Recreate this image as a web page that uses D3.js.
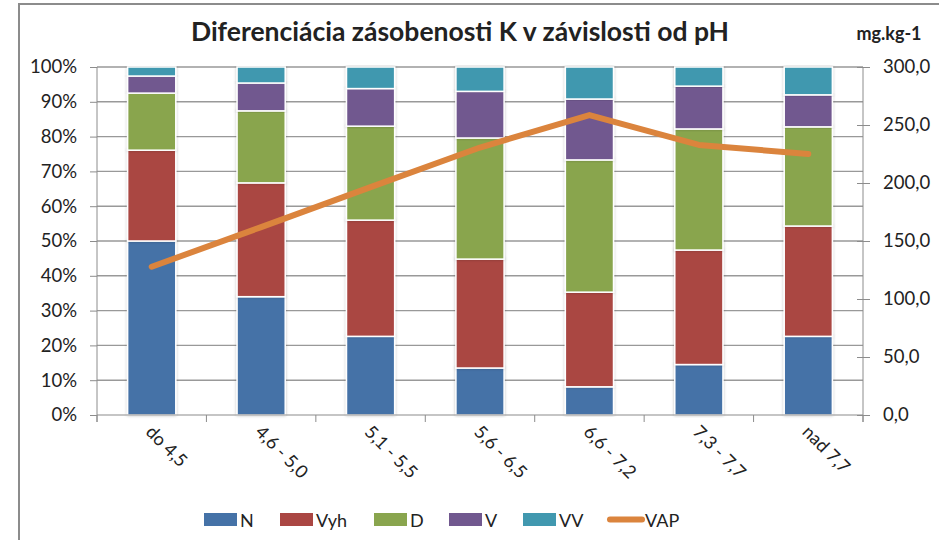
<!DOCTYPE html>
<html>
<head>
<meta charset="utf-8">
<script src="https://cdn.jsdelivr.net/npm/d3@7"></script>
<style>
  body { margin: 0; background: #fff; }
  svg text { font-family: Lato, "Open Sans", sans-serif; fill: #222; }
</style>
</head>
<body>
<div id="chart"></div>
<script>
// pH classes and shares (%) of each supply class, plus mean K (mg.kg-1)
const categories = ['do 4,5', '4,6 - 5,0', '5,1 - 5,5', '5,6 - 6,5', '6,6 - 7,2', '7,3 - 7,7', 'nad 7,7']
const N   = [50, 34, 22.6, 13.5, 8.1, 14.5, 22.6]
const Vyh = [26.1, 32.7, 33.4, 31.3, 27.2, 32.9, 31.7]
const D   = [16.4, 20.7, 27, 34.8, 38, 34.8, 28.5]
const V   = [4.9, 8, 10.8, 13.4, 17.5, 12.3, 9.2]
const VV  = [2.6, 4.6, 6.2, 7, 9.2, 5.5, 8]
const VAP = [127.8, 162, 196.5, 230.6, 258.6, 232.8, 225]
const seriesNames = ['N', 'Vyh', 'D', 'V', 'VV']
const colors = ['#4572A7', '#AA4643', '#89A54E', '#71588F', '#4198AF']
const lineColor = '#DB843D'
const leftTicks = [0, 10, 20, 30, 40, 50, 60, 70, 80, 90, 100]
const rightTicks = [0, 50, 100, 150, 200, 250, 300]

const width = 939
const height = 540
const plot = { left: 97, right: 863, top: 67, bottom: 415 }

const rows = categories.map((c, i) => ({ cat: c, N: N[i], Vyh: Vyh[i], D: D[i], V: V[i], VV: VV[i] }))

const svg = d3.select('#chart').append('svg')
  .attr('width', width)
  .attr('height', height)

const defs = svg.append('defs')
const shadow = defs.append('filter').attr('id', 'shadow')
  .attr('x', '-20%').attr('y', '-5%').attr('width', '140%').attr('height', '110%')
shadow.append('feDropShadow')
  .attr('dx', 0).attr('dy', 0).attr('stdDeviation', 1.5)
  .attr('flood-color', '#000').attr('flood-opacity', 0.25)

// outer chart frame
svg.append('rect')
  .attr('x', 19).attr('y', 4)
  .attr('width', 1000).attr('height', 700)
  .attr('fill', '#fff')
  .attr('stroke', '#8c8c8c')
  .attr('stroke-width', 2)

const x = d3.scaleBand()
  .domain(categories)
  .range([plot.left, plot.right])
  .paddingInner(0.56)
  .paddingOuter(0.28)

const yLeft = d3.scaleLinear().domain([0, 100]).range([plot.bottom, plot.top])
const yRight = d3.scaleLinear().domain([0, 300]).range([plot.bottom, plot.top])

// gridlines
svg.append('g')
  .selectAll('line')
  .data(leftTicks.slice(1))
  .enter()
  .append('line')
  .attr('x1', plot.left).attr('x2', plot.right)
  .attr('y1', d => yLeft(d)).attr('y2', d => yLeft(d))
  .attr('stroke', '#999')
  .attr('stroke-width', 1.4)

// left axis
const axisL = d3.axisLeft(yLeft)
  .tickValues(leftTicks)
  .tickFormat(d => d + '%')
  .tickSize(7)
  .tickPadding(13)
const gL = svg.append('g')
  .attr('transform', `translate(${plot.left},0)`)
  .call(axisL)
gL.select('.domain').remove()
gL.append('line')
  .attr('x1', 0).attr('x2', 0)
  .attr('y1', plot.top).attr('y2', plot.bottom + 7)
  .attr('stroke', '#8c8c8c')
gL.selectAll('.tick line').attr('stroke', '#8c8c8c')
gL.selectAll('.tick text')
  .style('font-size', '18.5px')
  .attr('fill', '#222')

// right axis
const axisR = d3.axisRight(yRight)
  .tickValues(rightTicks)
  .tickFormat(d => d3.format('.1f')(d).replace('.', ','))
  .tickSize(7)
  .tickPadding(13)
const gR = svg.append('g')
  .attr('transform', `translate(${plot.right},0)`)
  .call(axisR)
gR.select('.domain').remove()
gR.append('line')
  .attr('x1', 0).attr('x2', 0)
  .attr('y1', plot.top).attr('y2', plot.bottom + 7)
  .attr('stroke', '#8c8c8c')
gR.selectAll('.tick line')
  .attr('x1', -6).attr('x2', 7)
  .attr('stroke', '#8c8c8c')
gR.selectAll('.tick text')
  .style('font-size', '18.5px')
  .attr('fill', '#222')

// stacked bars
const stack = d3.stack().keys(seriesNames)
const layers = stack(rows)

svg.append('g')
  .selectAll('g')
  .data(layers)
  .enter()
  .append('g')
  .attr('fill', (d, i) => colors[i])
  .selectAll('rect')
  .data(d => d)
  .enter()
  .append('rect')
  .attr('x', d => x(d.data.cat))
  .attr('y', d => yLeft(d[1]))
  .attr('width', x.bandwidth())
  .attr('height', d => yLeft(d[0]) - yLeft(d[1]))
  .attr('stroke', '#fff')
  .attr('stroke-width', 1.5)
  .attr('filter', 'url(#shadow)')

// bottom axis line and category ticks
const bottom = svg.append('g')
bottom.append('line')
  .attr('x1', plot.left).attr('x2', plot.right)
  .attr('y1', plot.bottom).attr('y2', plot.bottom)
  .attr('stroke', '#8c8c8c')
  .attr('stroke-width', 1.2)
bottom.selectAll('.ctick')
  .data(d3.range(categories.length + 1))
  .enter()
  .append('line')
  .attr('class', 'ctick')
  .attr('x1', i => plot.left + i * x.step())
  .attr('x2', i => plot.left + i * x.step())
  .attr('y1', plot.bottom).attr('y2', plot.bottom + 7)
  .attr('stroke', '#8c8c8c')

bottom.selectAll('.clabel')
  .data(categories)
  .enter()
  .append('text')
  .attr('class', 'clabel')
  .attr('transform', d => `translate(${x(d) + x.bandwidth() / 2 - 7},${plot.bottom + 18}) rotate(45)`)
  .style('font-size', '18px')
  .text(d => d)

// VAP line
const line = d3.line()
  .x((d, i) => x(categories[i]) + x.bandwidth() / 2)
  .y(d => yRight(d))

svg.append('path')
  .datum(VAP)
  .attr('d', line)
  .attr('fill', 'none')
  .attr('stroke', lineColor)
  .attr('stroke-width', 6)
  .attr('stroke-linecap', 'round')
  .attr('stroke-linejoin', 'round')

// title and unit
svg.append('text')
  .attr('x', 460).attr('y', 41)
  .attr('text-anchor', 'middle')
  .style('font-size', '26.5px')
  .style('font-weight', 'bold')
  .text('Diferenciácia zásobenosti K v závislosti od pH')

svg.append('text')
  .attr('x', 889).attr('y', 40)
  .attr('text-anchor', 'middle')
  .style('font-size', '18px')
  .style('font-weight', 'bold')
  .text('mg.kg-1')

// legend
const legendItems = [
  { name: 'N', x: 204 }, { name: 'Vyh', x: 280 }, { name: 'D', x: 374 },
  { name: 'V', x: 449 }, { name: 'VV', x: 523 }, { name: 'VAP', x: 607 }
]
const legend = svg.append('g')
legendItems.forEach((item, i) => {
  if (i < colors.length) {
    legend.append('rect')
      .attr('x', item.x).attr('y', 513)
      .attr('width', 33).attr('height', 13)
      .attr('fill', colors[i])
  } else {
    legend.append('line')
      .attr('x1', item.x + 3).attr('x2', item.x + 35)
      .attr('y1', 519.5).attr('y2', 519.5)
      .attr('stroke', lineColor)
      .attr('stroke-width', 6)
      .attr('stroke-linecap', 'round')
  }
  legend.append('text')
    .attr('x', item.x + (i < colors.length ? 36 : 38))
    .attr('y', 527)
    .style('font-size', '18px')
    .text(item.name)
})
</script>
</body>
</html>
